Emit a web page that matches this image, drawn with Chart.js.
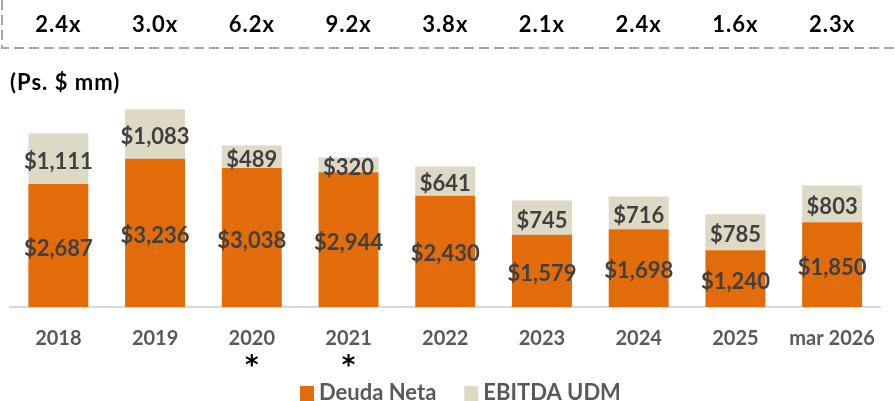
<!DOCTYPE html>
<html>
<head>
<meta charset="utf-8">
<script src="https://cdn.jsdelivr.net/npm/chart.js@4"></script>
<style>
  html, body { margin: 0; padding: 0; background: #fff; }
  #wrap { width: 895px; height: 401px; }
</style>
</head>
<body>
<div id="wrap"><canvas id="graficoDeuda" width="895" height="401"></canvas></div>
<script>
const periodos = ['2018', '2019', '2020', '2021', '2022', '2023', '2024', '2025', 'mar 2026'];
const deudaNeta = [2687, 3236, 3038, 2944, 2430, 1579, 1698, 1240, 1850];
const ebitdaUdm = [1111, 1083, 489, 320, 641, 745, 716, 785, 803];
const multiplos = ['2.4x', '3.0x', '6.2x', '9.2x', '3.8x', '2.1x', '2.4x', '1.6x', '2.3x'];
const conAsterisco = ['2020', '2021'];

const fuente = 'Lato, "Open Sans", sans-serif';

// etiquetas, multiplos, titulo y leyenda
const extras = {
    id: 'extras',
    afterDatasetsDraw(chart) {
        const ctx = chart.ctx;
        const x = chart.scales.x;
        ctx.save();

        // valores dentro de cada segmento
        ctx.font = 'bold 22px ' + fuente;
        ctx.fillStyle = '#404040';
        ctx.textAlign = 'center';
        ctx.textBaseline = 'middle';
        chart.data.datasets.forEach((ds, i) => {
            chart.getDatasetMeta(i).data.forEach((bar, j) => {
                const txt = '$' + ds.data[j].toLocaleString('en-US');
                ctx.fillText(txt, bar.x, (bar.y + bar.base) / 2 + 3);
            });
        });

        // caja punteada de multiplos
        ctx.strokeStyle = '#a6a6a6';
        ctx.lineWidth = 2;
        ctx.setLineDash([10, 5]);
        ctx.beginPath();
        ctx.moveTo(2, 0);
        ctx.lineTo(2, 48);
        ctx.lineTo(895, 48);
        ctx.stroke();
        ctx.setLineDash([]);

        ctx.fillStyle = '#000';
        ctx.font = 'bold 22px ' + fuente;
        ctx.letterSpacing = '1px';
        multiplos.forEach((m, i) => {
            ctx.fillText(m, x.getPixelForValue(i), 25);
        });

        ctx.textAlign = 'left';
        ctx.fillText('(Ps. $ mm)', 10, 83);
        ctx.letterSpacing = '0px';

        // asteriscos
        ctx.textAlign = 'center';
        ctx.font = 'bold 26px "DejaVu Sans", sans-serif';
        conAsterisco.forEach(p => {
            ctx.fillText('*', x.getPixelForValue(periodos.indexOf(p)), 367);
        });

        // leyenda
        ctx.font = 'bold 22px ' + fuente;
        ctx.textAlign = 'left';
        let lx = 300;
        chart.data.datasets.forEach(ds => {
            ctx.fillStyle = ds.backgroundColor;
            ctx.fillRect(lx, 386, 14, 15);
            ctx.fillStyle = '#595959';
            ctx.fillText(ds.label, lx + 19, 393);
            lx += 19 + ctx.measureText(ds.label).width + 28;
        });

        ctx.restore();
    }
};

new Chart(document.getElementById('graficoDeuda'), {
    type: 'bar',
    data: {
        labels: periodos,
        datasets: [
            {
                label: 'Deuda Neta',
                data: deudaNeta,
                backgroundColor: '#e36c0a',
                barPercentage: 0.62,
                categoryPercentage: 1
            },
            {
                label: 'EBITDA UDM',
                data: ebitdaUdm,
                backgroundColor: '#ddd9c4',
                barPercentage: 0.62,
                categoryPercentage: 1
            }
        ]
    },
    options: {
        responsive: false,
        animation: false,
        layout: { padding: { top: 101, left: 10, right: 1, bottom: 0 } },
        plugins: {
            legend: { display: false },
            tooltip: { enabled: false }
        },
        scales: {
            x: {
                stacked: true,
                grid: { display: false, drawTicks: false },
                border: { display: true, color: '#d9d9d9', width: 2 },
                ticks: {
                    color: '#595959',
                    font: { family: fuente, size: 20, weight: 'bold' },
                    padding: 20,
                    maxRotation: 0,
                    autoSkip: false
                },
                afterFit(scale) { scale.height = 94; }
            },
            y: {
                stacked: true,
                display: false,
                min: 0,
                max: 4500
            }
        }
    },
    plugins: [extras]
});
</script>
</body>
</html>
